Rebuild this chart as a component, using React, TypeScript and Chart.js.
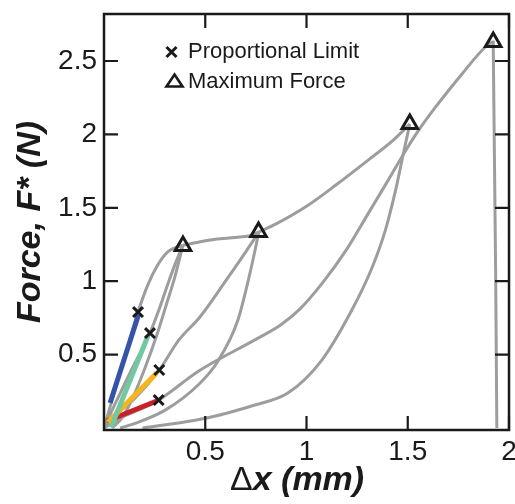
import React, { useEffect, useRef } from 'react';
import { Chart, registerables } from 'chart.js';

Chart.register(...registerables);

// ---- data (Δx in mm, Force in N) ----
const xTicks = [0.5, 1, 1.5, 2];
const yTicks = [0.5, 1, 1.5, 2, 2.5];

// virgin loading up to first maximum
const load1X = [0, 0.04, 0.1, 0.168, 0.215, 0.265, 0.315, 0.39];
const load1Y = [0, 0.19, 0.47, 0.79, 0.97, 1.11, 1.2, 1.245];
// plateau from first to second maximum
const plateauX = [0.39, 0.47, 0.55, 0.65, 0.72, 0.765];
const plateauY = [1.245, 1.267, 1.285, 1.298, 1.31, 1.335];
// continuation from second to third maximum
const rise3X = [0.765, 0.85, 1.0, 1.15, 1.3, 1.42, 1.51];
const rise3Y = [1.335, 1.39, 1.51, 1.66, 1.82, 1.95, 2.07];
// reloading curves
const reload2X = [0, 0.05, 0.13, 0.227, 0.27, 0.315, 0.355, 0.39];
const reload2Y = [0, 0.15, 0.38, 0.647, 0.8, 0.98, 1.13, 1.245];
const reload3X = [0, 0.06, 0.15, 0.273, 0.37, 0.474, 0.6, 0.7, 0.765];
const reload3Y = [0, 0.09, 0.2, 0.395, 0.6, 0.756, 1.0, 1.2, 1.335];
const reload4X = [0, 0.1, 0.2, 0.27, 0.47, 0.745, 0.87, 0.967, 1.08, 1.2, 1.3, 1.4, 1.49, 1.55, 1.634, 1.767, 1.88, 1.922, 1.94];
const reload4Y = [0, 0.08, 0.14, 0.19, 0.39, 0.6, 0.7, 0.81, 0.99, 1.22, 1.45, 1.68, 1.89, 2.02, 2.18, 2.41, 2.59, 2.63, 0];
// unloading curves
const unload1X = [0.04, 0.09, 0.14, 0.2, 0.26, 0.31, 0.35, 0.39];
const unload1Y = [0, 0.07, 0.2, 0.4, 0.63, 0.85, 1.03, 1.245];
const unload2X = [0.08, 0.15, 0.3, 0.47, 0.56, 0.66, 0.72, 0.765];
const unload2Y = [0, 0.03, 0.12, 0.3, 0.45, 0.73, 1.05, 1.335];
const unload3X = [0.19, 0.35, 0.508, 0.745, 0.908, 1.076, 1.224, 1.32, 1.39, 1.44, 1.48, 1.51];
const unload3Y = [0, 0.03, 0.068, 0.157, 0.238, 0.463, 0.804, 1.08, 1.35, 1.62, 1.88, 2.07];

// linear fits
const blueFitX = [0.03, 0.17];
const blueFitY = [0.17, 0.77];
const greenFitX = [0.035, 0.217];
const greenFitY = [0.005, 0.627];
const yellowFitX = [0.02, 0.26];
const yellowFitY = [0.04, 0.375];
const redFitX = [0.015, 0.26];
const redFitY = [0.048, 0.184];

// markers
const propLimitX = [0.168, 0.227, 0.273, 0.27];
const propLimitY = [0.79, 0.647, 0.395, 0.19];
const maxForceX = [0.39, 0.763, 1.51, 1.922];
const maxForceY = [1.24, 1.335, 2.07, 2.63];

const GRAY = '#9d9d9d';
const INK = '#1a1a1a';
const FONT = "'Liberation Sans', Arial, Helvetica, sans-serif";

// target plot frame inside the 515x504 canvas
const AREA = { left: 104, top: 14, right: 509, bottom: 430 };

const pts = (xs: number[], ys: number[]) => xs.map((x, i) => ({ x, y: ys[i] }));

const grayCurve = (xs: number[], ys: number[]) => ({
  data: pts(xs, ys),
  showLine: true,
  borderColor: GRAY,
  borderWidth: 3,
  pointRadius: 0,
  cubicInterpolationMode: 'monotone' as const,
  order: 3,
});

const fitLine = (xs: number[], ys: number[], color: string) => ({
  data: pts(xs, ys),
  showLine: true,
  borderColor: color,
  borderWidth: 5,
  pointRadius: 0,
  borderCapStyle: 'butt' as const,
  order: 2,
});

const framePlugin = {
  id: 'frameAndText',
  afterDraw(chart: any) {
    const { ctx, chartArea, scales } = chart;
    const { left, right, top, bottom } = chartArea;
    const TL = 14;
    ctx.save();
    ctx.strokeStyle = INK;
    ctx.lineWidth = 2.5;
    ctx.strokeRect(left, top, right - left, bottom - top);
    ctx.lineWidth = 2.2;
    ctx.beginPath();
    xTicks.forEach((v) => {
      const p = scales.x.getPixelForValue(v);
      ctx.moveTo(p, bottom);
      ctx.lineTo(p, bottom - TL);
      ctx.moveTo(p, top);
      ctx.lineTo(p, top + TL);
    });
    yTicks.forEach((v) => {
      const p = scales.y.getPixelForValue(v);
      ctx.moveTo(left, p);
      ctx.lineTo(left + TL, p);
      ctx.moveTo(right, p);
      ctx.lineTo(right - TL, p);
    });
    ctx.stroke();

    // y axis title
    ctx.fillStyle = INK;
    ctx.save();
    ctx.translate(40, (top + bottom) / 2);
    ctx.rotate(-Math.PI / 2);
    ctx.font = `italic bold 34px ${FONT}`;
    ctx.textAlign = 'center';
    ctx.textBaseline = 'alphabetic';
    ctx.fillText('Force, F* (N)', 0, 0);
    ctx.restore();

    // x axis title
    ctx.textAlign = 'left';
    ctx.textBaseline = 'alphabetic';
    ctx.font = `34px ${FONT}`;
    const dW = ctx.measureText('Δ').width;
    const startX = 230;
    ctx.fillText('Δ', startX, 490);
    ctx.font = `italic bold 34px ${FONT}`;
    ctx.fillText('x (mm)', startX + dW, 490);

    // legend
    ctx.strokeStyle = INK;
    ctx.lineWidth = 3;
    const cx = 171.5, cy = 52, h = 5;
    ctx.beginPath();
    ctx.moveTo(cx - h, cy - h);
    ctx.lineTo(cx + h, cy + h);
    ctx.moveTo(cx + h, cy - h);
    ctx.lineTo(cx - h, cy + h);
    ctx.stroke();
    ctx.lineWidth = 2.6;
    ctx.beginPath();
    ctx.moveTo(174.5, 74.5);
    ctx.lineTo(182.5, 86.5);
    ctx.lineTo(166.5, 86.5);
    ctx.closePath();
    ctx.stroke();
    ctx.font = `22px ${FONT}`;
    ctx.fillText('Proportional Limit', 188, 58);
    ctx.fillText('Maximum Force', 188, 88);
    ctx.restore();
  },
};

export default function App() {
  const ref = useRef<HTMLCanvasElement>(null);
  useEffect(() => {
    const canvas = ref.current;
    if (!canvas) return;
    const chart = new Chart(canvas, {
      type: 'scatter',
      data: {
        datasets: [
          {
            data: pts(propLimitX, propLimitY),
            pointStyle: 'crossRot',
            pointRadius: 7,
            pointBorderWidth: 3,
            pointBorderColor: INK,
            pointBackgroundColor: INK,
            showLine: false,
            order: 0,
          } as any,
          {
            data: pts(maxForceX, maxForceY),
            pointStyle: 'triangle',
            pointRadius: 9,
            pointBorderWidth: 3,
            pointBorderColor: INK,
            pointBackgroundColor: 'rgba(0,0,0,0)',
            showLine: false,
            order: 0,
          } as any,
          fitLine(blueFitX, blueFitY, '#3554a8'),
          fitLine(greenFitX, greenFitY, '#72c8a0'),
          fitLine(yellowFitX, yellowFitY, '#f6b619'),
          fitLine(redFitX, redFitY, '#c82129'),
          grayCurve(load1X, load1Y),
          grayCurve(plateauX, plateauY),
          grayCurve(rise3X, rise3Y),
          grayCurve(reload2X, reload2Y),
          grayCurve(reload3X, reload3Y),
          grayCurve(reload4X, reload4Y),
          grayCurve(unload1X, unload1Y),
          grayCurve(unload2X, unload2Y),
          grayCurve(unload3X, unload3Y),
        ] as any,
      },
      options: {
        responsive: false,
        animation: false,
        devicePixelRatio: 1,
        layout: {
          autoPadding: false,
          padding: { left: 0, top: AREA.top, right: 515 - AREA.right, bottom: 0 },
        },
        plugins: { legend: { display: false }, tooltip: { enabled: false } },
        scales: {
          x: {
            type: 'linear',
            min: 0,
            max: 2,
            afterBuildTicks: (s: any) => {
              s.ticks = xTicks.map((v) => ({ value: v }));
            },
            afterFit: (s: any) => {
              s.height = 504 - AREA.bottom;
              s.paddingLeft = 0;
              s.paddingRight = 0;
            },
            ticks: {
              font: { family: FONT, size: 28 },
              color: INK,
              padding: 5,
              maxRotation: 0,
              autoSkip: false,
              callback: (v: any) => String(v),
            },
            grid: { display: false, drawTicks: false },
            border: { display: false },
          },
          y: {
            type: 'linear',
            min: -0.0136,
            max: 2.82,
            afterBuildTicks: (s: any) => {
              s.ticks = yTicks.map((v) => ({ value: v }));
            },
            afterFit: (s: any) => {
              s.width = AREA.left;
              s.paddingTop = 0;
              s.paddingBottom = 0;
            },
            ticks: {
              font: { family: FONT, size: 28 },
              color: INK,
              padding: 7,
              autoSkip: false,
              callback: (v: any) => String(v),
            },
            grid: { display: false, drawTicks: false },
            border: { display: false },
          },
        },
      } as any,
      plugins: [framePlugin],
    });
    return () => chart.destroy();
  }, []);
  return (
    <div style={{ position: 'fixed', left: 0, top: 0, width: 515, height: 504, background: '#fff' }}>
      <canvas ref={ref} width={515} height={504} style={{ display: 'block', width: 515, height: 504 }} />
    </div>
  );
}
